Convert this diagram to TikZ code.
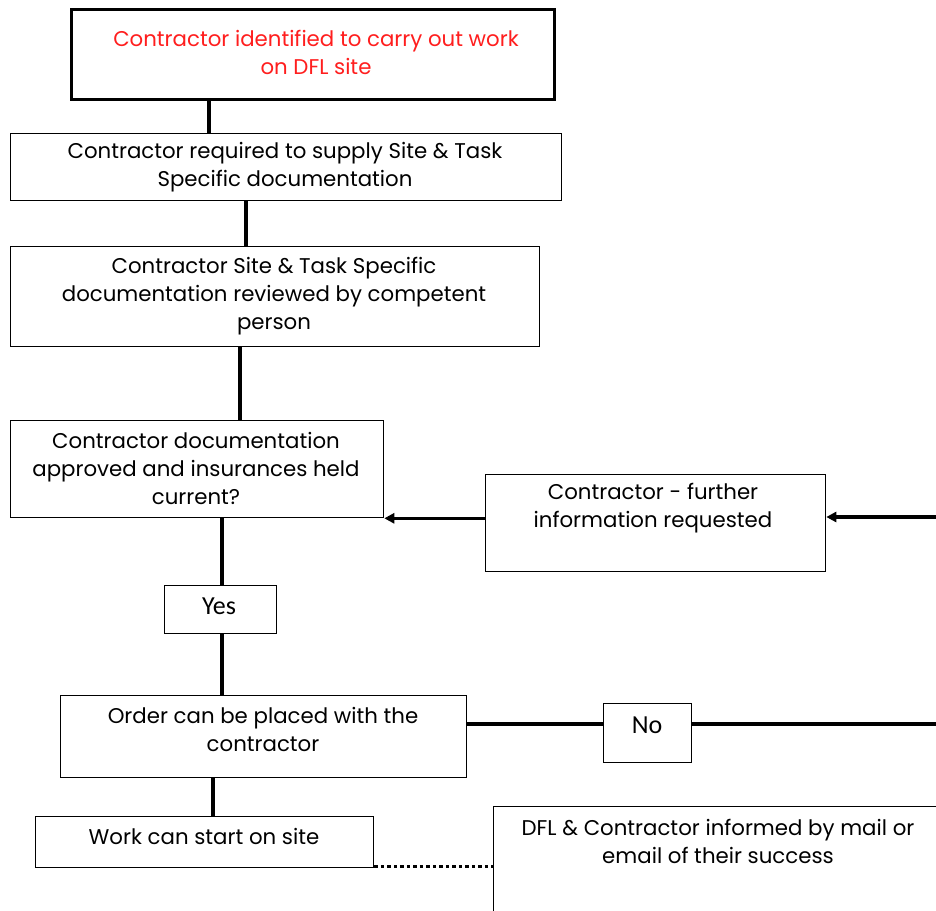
\documentclass[tikz,border=0pt]{standalone}
\usepackage{fontspec}
\setmainfont{Poppins}
\newfontfamily\yesnofont{Carlito}
\usetikzlibrary{arrows.meta}
\definecolor{redtxt}{RGB}{255,30,30}
\begin{document}
\begin{tikzpicture}[x=1pt,y=-1pt,
  box/.style={draw, line width=1.3pt, inner sep=0pt, anchor=north west},
  txt/.style={align=center, inner sep=0pt, font=\fontsize{21.3}{28}\selectfont},
  yn/.style={align=center, inner sep=0pt, font=\yesnofont\fontsize{26}{28}\selectfont},
  conn/.style={line width=3.2pt},
  arr/.style={line width=3.2pt, -{Triangle[length=10pt,width=10pt]}},
  dots/.style={line width=2.4pt, dash pattern=on 3.5pt off 3pt}]
\useasboundingbox (0,0) rectangle (936,910);
\clip (0,0) rectangle (936,910);
\fill[white] (0,0) rectangle (936,910);
% boxes
\node[box, line width=3pt, minimum width=483pt, minimum height=90pt] (b1) at (70,8) {};
\node[box, minimum width=551pt, minimum height=67pt] (b2) at (10,133) {};
\node[box, minimum width=529pt, minimum height=100pt] (b3) at (10,246) {};
\node[box, minimum width=373pt, minimum height=97pt] (b4) at (10,420) {};
\node[box, minimum width=340pt, minimum height=97pt] (b5) at (485,474) {};
\node[box, minimum width=112pt, minimum height=48pt] (b6) at (164,585) {};
\node[box, minimum width=406pt, minimum height=82pt] (b7) at (60,695) {};
\node[box, minimum width=88pt, minimum height=59pt] (b8) at (603,703) {};
\node[box, minimum width=338pt, minimum height=51pt] (b9) at (35,816) {};
\node[box, minimum width=500pt, minimum height=150pt] (b10) at (493,806) {};
% texts
\node[txt, text=redtxt] (t1) at (316,52) {Contractor identified to carry out work\\on DFL site};
\node[txt] (t2) at (285,167) {Contractor required to supply Site \& Task\\Specific documentation};
\node[txt] (t3) at (274,296) {Contractor Site \& Task Specific\\documentation reviewed by competent\\person};
\node[txt] (t4) at (196,468) {Contractor documentation\\approved and insurances held\\current?};
\node[txt] (t5) at (653,508) {Contractor - further\\information requested};
\node[yn] (t6) at (219,606) {Yes};
\node[txt] (t7) at (263,729) {Order can be placed with the\\contractor};
\node[yn] (t8) at (647,725) {No};
\node[txt] (t9) at (204,836) {Work can start on site};
\node[txt] (t10) at (718,841) {DFL \& Contractor informed by mail or\\email of their success};
% connectors
\draw[conn] ([xshift=139pt]b1.south west) -- ([xshift=199pt]b2.north west);
\draw[conn] ([xshift=236pt]b2.south west) -- ([xshift=236pt]b3.north west);
\draw[conn] ([xshift=230pt]b3.south west) -- ([xshift=230pt]b4.north west);
\draw[arr] (b5.west |- b4.south east) -- (b4.south east);
\coordinate (e1) at (940,517);
\draw[arr] (e1) -- (e1 -| b5.east);
\draw[conn] ([xshift=58pt]b6.north west |- b4.south) -- ([xshift=58pt]b6.north west);
\draw[conn] ([xshift=58pt]b6.south west) -- ([xshift=58pt]b6.south west |- b7.north);
\coordinate (e2) at (940,724);
\draw[conn] (b7.east |- e2) -- (b8.west |- e2);
\draw[conn] (b8.east |- e2) -- (e2);
\draw[conn] ([xshift=153pt]b7.south west) -- ([xshift=178pt]b9.north west);
\draw[dots] ([yshift=2pt]b9.south east) -- ([yshift=2pt]b9.south east -| b10.west);
\end{tikzpicture}
\end{document}
